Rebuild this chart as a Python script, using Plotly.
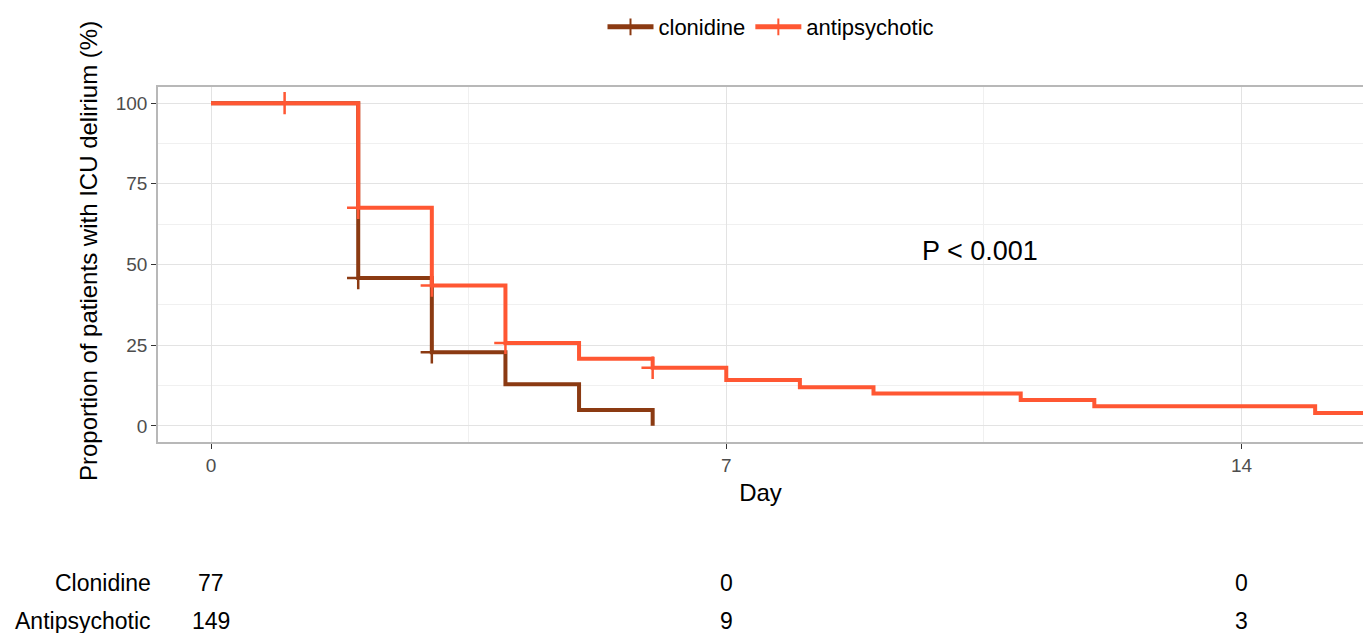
import plotly.graph_objects as go

# ---- data ----
groups = ["clonidine", "antipsychotic"]
colors = ["#8B3A12", "#FF5733"]

clon_time = [0, 2, 3, 4, 5, 6]
clon_surv = [100, 45.8, 22.8, 12.9, 4.9, 0]
clon_cens = [0, 1, 1, 0, 0, 0]

anti_time = [0, 1, 2, 3, 4, 5, 6, 7, 8, 9, 11, 12, 15, 16]
anti_surv = [100, 100, 67.6, 43.5, 25.7, 20.8, 18.0, 14.2, 12.0, 10.0, 8.0, 6.1, 4.0, 4.0]
anti_cens = [0, 1, 1, 1, 1, 0, 1, 0, 0, 0, 0, 0, 0, 0]

risk_labels = ["Clonidine", "Antipsychotic"]
risk_times = [0, 7, 14]
risk_clon = [77, 0, 0]
risk_anti = [149, 9, 3]

x_ticks = [0, 7, 14]
y_ticks = [0, 25, 50, 75, 100]

FONT = "Liberation Sans, Arial, sans-serif"

W, H = 1363, 633
PLOT_L, PLOT_T, PLOT_B = 158, 87, 442
PW, PH = W - PLOT_L, PLOT_B - PLOT_T

fig = go.Figure()
series = [(clon_time, clon_surv, clon_cens), (anti_time, anti_surv, anti_cens)]
for name, col, (t, s, c) in zip(groups, colors, series):
    fig.add_trace(go.Scatter(
        x=t, y=s, name=name, mode="lines+markers",
        line=dict(color=col, width=4, shape="hv"),
        marker=dict(symbol="cross-thin", size=[16 if k else 0 for k in c],
                    line=dict(color=col, width=2.5), color=col, opacity=1),
    ))

# risk table annotations
annotations = []
for row, (lab, vals) in enumerate(zip(risk_labels, [risk_clon, risk_anti])):
    ypix = 583 + row * 38
    ypaper = (PLOT_B - ypix) / PH
    annotations.append(dict(text=lab, xref="paper", yref="paper", x=-0.004, y=ypaper,
                            xanchor="right", yanchor="middle", showarrow=False,
                            font=dict(family=FONT, size=23, color="#000")))
    for tt, v in zip(risk_times, vals):
        annotations.append(dict(text=str(v), xref="x", yref="paper", x=tt, y=ypaper,
                                xanchor="center", yanchor="middle", showarrow=False,
                                font=dict(family=FONT, size=23, color="#000")))

annotations.append(dict(text="P < 0.001", xref="x", yref="y", x=10.45, y=54.3,
                        showarrow=False, font=dict(family=FONT, size=27, color="#000")))
annotations.append(dict(text="Proportion of patients with ICU delirium (%)",
                        xref="paper", yref="paper", x=(88 - PLOT_L) / PW,
                        y=(PLOT_B - 251) / PH, textangle=-90, showarrow=False,
                        xanchor="center", yanchor="middle",
                        font=dict(family=FONT, size=24, color="#000")))

fig.update_layout(
    width=W, height=H,
    margin=dict(l=PLOT_L, r=0, t=PLOT_T, b=H - PLOT_B),
    paper_bgcolor="white", plot_bgcolor="white",
    font=dict(family=FONT),
    showlegend=True,
    legend=dict(orientation="h", x=(771 - PLOT_L) / PW, xanchor="center", xref="paper",
                y=1 - 27 / H, yanchor="middle", yref="container",
                itemsizing="constant", font=dict(size=22, color="#000"),
                itemwidth=46),
    annotations=annotations,
    xaxis=dict(range=[-0.72, 15.65], tickvals=x_ticks, ticks="outside", ticklen=5,
               tickcolor="#333", tickwidth=1,
               tickfont=dict(size=19, color="#4D4D4D"),
               showgrid=True, gridcolor="#E3E3E3", gridwidth=1,
               minor=dict(tickvals=[3.5, 10.5], showgrid=True, gridcolor="#F0F0F0", gridwidth=1),
               showline=True, linecolor="#B8B8B8", linewidth=1.5, mirror=True,
               zeroline=False,
               title=dict(text="Day", font=dict(size=24, color="#000"), standoff=10)),
    yaxis=dict(range=[-5, 105], tickvals=y_ticks, ticks="outside", ticklen=5,
               tickcolor="#333", tickwidth=1,
               tickfont=dict(size=19, color="#4D4D4D"),
               showgrid=True, gridcolor="#E3E3E3", gridwidth=1,
               minor=dict(tickvals=[12.5, 37.5, 62.5, 87.5], showgrid=True, gridcolor="#F0F0F0", gridwidth=1),
               showline=True, linecolor="#B8B8B8", linewidth=1.5, mirror=False,
               zeroline=False),
)

fig.write_html("out.html",
               config={"displayModeBar": False},
               post_script="document.body.style.margin='0';document.body.style.overflow='hidden';")
